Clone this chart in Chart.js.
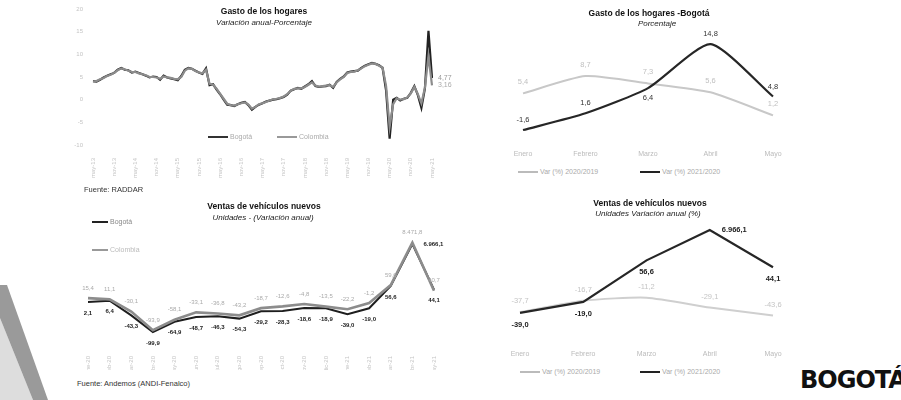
<!DOCTYPE html>
<html lang="es">
<head>
<meta charset="utf-8">
<script src="https://cdn.jsdelivr.net/npm/chart.js@4.4.1/dist/chart.umd.min.js"></script>
<style>
  html, body { margin: 0; padding: 0; background: #fff; }
  body { width: 901px; height: 400px; position: relative; overflow: hidden; font-family: "Liberation Sans", Arial, sans-serif; }
  canvas { position: absolute; }
  .t { position: absolute; white-space: nowrap; color: #111; }
  .tit { font-weight: bold; font-size: 8.5px; text-align: center; }
  .sub { font-style: italic; font-size: 8px; text-align: center; color: #222; }
  .leg { font-size: 7px; color: #aaa; }
  .leg i { display: inline-block; width: 20px; height: 2px; vertical-align: middle; margin-right: 2px; }
  .fuente { font-size: 7.5px; color: #333; }
</style>
</head>
<body>
<div style="position:absolute;left:0;top:0;width:60px;height:400px;background:#ddd;clip-path:polygon(0 318px,33px 400px,0 400px)"></div>
<div style="position:absolute;left:0;top:0;width:60px;height:400px;background:#9a9a9a;clip-path:polygon(0 285px,7px 285px,48px 400px,33px 400px,0 318px)"></div>

<canvas id="gasto" width="400" height="180" style="left:60px;top:0"></canvas>
<canvas id="gastoBog" width="441" height="165" style="left:460px;top:0"></canvas>
<canvas id="ventas" width="400" height="180" style="left:60px;top:190px"></canvas>
<canvas id="ventasBog" width="441" height="175" style="left:460px;top:190px"></canvas>

<div class="t tit" style="left:164px;width:200px;top:6px">Gasto de los hogares</div>
<div class="t sub" style="left:164px;width:200px;top:18px">Variación anual-Porcentaje</div>
<div class="t leg" style="left:208px;top:133px"><i style="background:#333"></i>Bogotá</div>
<div class="t leg" style="left:277px;top:133px"><i style="background:#999"></i>Colombia</div>
<div class="t fuente" style="left:84px;top:185px">Fuente: RADDAR</div>

<div class="t tit" style="left:549px;width:200px;top:8px">Gasto de los hogares -Bogotá</div>
<div class="t sub" style="left:557px;width:200px;top:19px">Porcentaje</div>
<div class="t leg" style="left:518px;top:168px"><i style="background:#bbb"></i>Var (%) 2020/2019</div>
<div class="t leg" style="left:640px;top:168px"><i style="background:#222"></i>Var (%) 2021/2020</div>

<div class="t tit" style="left:164px;width:200px;top:201px">Ventas de vehículos nuevos</div>
<div class="t sub" style="left:163px;width:200px;top:213px">Unidades - (Variación anual)</div>
<div class="t leg" style="left:92px;top:218px;color:#888"><i style="background:#222;width:16px"></i>Bogotá</div>
<div class="t leg" style="left:92px;top:246px;color:#bbb"><i style="background:#999;width:16px"></i>Colombia</div>
<div class="t fuente" style="left:77px;top:379px">Fuente: Andemos (ANDI-Fenalco)</div>

<div class="t tit" style="left:550px;width:200px;top:198px">Ventas de vehículos nuevos</div>
<div class="t sub" style="left:548px;width:200px;top:209px">Unidades Variación anual (%)</div>
<div class="t leg" style="left:520px;top:368px"><i style="background:#bbb"></i>Var (%) 2020/2019</div>
<div class="t leg" style="left:640px;top:368px"><i style="background:#222"></i>Var (%) 2021/2020</div>

<div class="t" style="left:800px;top:366px;font-family:'DejaVu Sans';font-weight:bold;font-size:24px;letter-spacing:-1px;color:#111">BOGOTÁ</div>

<script>
// ---- Gasto de los hogares (variación anual, mensual may-13 .. may-21)
const mesesCortos = ['ene','feb','mar','abr','may','jun','jul','ago','sep','oct','nov','dic'];
const gastoBogota = [
  4.1, 4.0, 4.4, 4.9, 5.3, 5.6, 5.9, 6.6, 7.0, 6.6, 6.5, 6.0, 6.2, 5.9, 5.6, 5.3,
  4.9, 5.1, 5.0, 4.4, 5.3, 4.9, 4.7, 4.5, 4.3, 5.2, 6.6, 7.0, 6.8, 6.4, 6.0, 5.7,
  6.9, 3.2, 3.4, 2.2, 1.2, 0.0, -1.1, -1.2, -1.4, -1.0, -0.7, -0.5, -1.2, -2.2, -1.6, -1.1,
  -0.8, -0.4, -0.2, 0.0, 0.1, 0.3, 0.6, 1.1, 2.0, 2.3, 2.6, 2.4, 2.9, 3.4, 4.1, 3.0,
  2.8, 2.9, 3.0, 3.3, 2.6, 3.9, 4.6, 5.1, 6.0, 6.2, 6.3, 6.4, 7.0, 7.5, 7.8, 8.1,
  7.9, 7.6, 7.0, 2.0, -8.6, 0.0, 0.4, -0.2, 0.2, 0.4, 1.5, 3.0, 1.0, -1.8, 2.5, 15.2,
  4.77
];
const gastoColombia = [
  4.0, 4.1, 4.5, 4.8, 5.2, 5.5, 5.9, 6.5, 6.9, 6.7, 6.4, 6.1, 6.1, 5.8, 5.6, 5.4,
  5.0, 5.0, 4.9, 4.6, 5.1, 4.9, 4.8, 4.6, 4.5, 5.0, 6.4, 6.9, 6.8, 6.3, 6.0, 5.8,
  6.6, 3.5, 3.3, 2.4, 1.3, 0.2, -0.9, -1.2, -1.3, -1.0, -0.8, -0.6, -1.1, -2.0, -1.6, -1.0,
  -0.8, -0.5, -0.2, 0.1, 0.2, 0.4, 0.7, 1.2, 2.0, 2.4, 2.5, 2.5, 2.8, 3.3, 3.8, 3.1,
  2.9, 3.0, 3.1, 3.2, 2.8, 3.8, 4.5, 5.0, 5.9, 6.1, 6.2, 6.5, 6.9, 7.4, 7.7, 8.0,
  7.9, 7.5, 7.1, 3.0, -6.0, -1.0, 0.3, 0.0, 0.1, 0.5, 1.4, 2.8, 1.2, -0.8, 2.7, 9.6,
  3.16
];
const gastoTicksY = [-10, -5, 0, 5, 10, 15, 20];

// ---- Gasto de los hogares Bogotá (enero-mayo)
const mesesEneMay = ['Enero', 'Febrero', 'Marzo', 'Abril', 'Mayo'];
const gastoBog2020 = [5.4, 8.7, 7.3, 5.6, 1.2];
const gastoBog2021 = [-1.6, 1.6, 6.4, 14.8, 4.8];

// ---- Ventas de vehículos nuevos (ene-20 .. may-21)
const ventasBogota = [2.1, 6.4, -43.3, -99.9, -64.9, -48.7, -46.3, -54.3, -29.2, -28.3, -18.6, -18.9, -39.0, -19.0, 56.6, 6966.1, 44.1];
const ventasColombia = [15.4, 11.1, -30.1, -93.9, -58.1, -33.1, -36.8, -43.2, -18.7, -12.6, -4.8, -13.5, -22.2, -1.2, 59.6, 8471.8, 40.7];

// ---- Ventas Bogotá (enero-mayo)
const mesesVentas = ['Enero', 'Febrero', 'Marzo', 'Abril', 'Mayo'];
const ventasBog2020 = [-37.7, -16.7, -11.2, -29.1, -43.6];
const ventasBog2021 = [-39.0, -19.0, 56.6, 6966.1, 44.1];

// meses de las series largas
function serieMeses(anioIni, mesIni, n) {
  const out = [];
  for (let k = 0; k < n; k++) {
    const m = (mesIni + k) % 12;
    const a = anioIni + Math.floor((mesIni + k) / 12);
    out.push(mesesCortos[m] + '-' + String(a).slice(2));
  }
  return out;
}
const gastoMeses = serieMeses(2013, 4, gastoBogota.length);
const ventasMeses = serieMeses(2020, 0, ventasBogota.length);

// número con formato es-CO
function fmt(v, dec) {
  const p = Math.abs(v).toFixed(dec).split('.');
  p[0] = p[0].replace(/\B(?=(\d{3})+(?!\d))/g, '.');
  return (v < 0 ? '-' : '') + p[0] + (dec ? ',' + p[1] : '');
}

// escala lineal con tramo comprimido para valores muy altos
class EscalaQuebrada extends Chart.LinearScale {
  aplastar(v) {
    const u = this.options.umbral, k = this.options.compresion;
    return v > u ? u + k * Math.log10(v / u) : v;
  }
  getPixelForValue(v) { return super.getPixelForValue(this.aplastar(v)); }
  getValueForPixel(p) {
    const v = super.getValueForPixel(p);
    const u = this.options.umbral, k = this.options.compresion;
    return v > u ? u * Math.pow(10, (v - u) / k) : v;
  }
}
EscalaQuebrada.id = 'quebrada';
EscalaQuebrada.defaults = Chart.LinearScale.defaults;
Chart.register(EscalaQuebrada);

const etiquetas = {
  id: 'etiquetas',
  afterDatasetsDraw(chart) {
    const ctx = chart.ctx;
    chart.data.datasets.forEach((ds, i) => {
      const e = ds.etiquetas;
      if (!e) return;
      chart.getDatasetMeta(i).data.forEach((pt, j) => {
        if (e.solo && !e.solo.includes(j)) return;
        const pos = Array.isArray(e.pos) ? e.pos[j] : e.pos;
        let dx = 0, dy = 0, align = 'center';
        if (pos === 'above') dy = -e.gap;
        if (pos === 'below') dy = e.gap;
        if (pos === 'right') { dx = e.gap; align = 'left'; }
        ctx.save();
        ctx.font = e.font;
        ctx.fillStyle = e.color;
        ctx.textAlign = align;
        ctx.textBaseline = 'middle';
        ctx.fillText(fmt(ds.data[j], e.dec), pt.x + dx, pt.y + dy);
        ctx.restore();
      });
    });
  }
};

Chart.defaults.font.family = '"Liberation Sans", Arial, sans-serif';
Chart.defaults.animation = false;
Chart.defaults.responsive = false;
Chart.defaults.plugins.legend.display = false;
Chart.defaults.plugins.tooltip.enabled = false;
Chart.defaults.elements.point.radius = 0;

const ejeX = (alto, pad) => ({
  offset: false,
  grid: { display: false },
  border: { display: false },
  afterFit: s => { s.height = alto; },
  ticks: { padding: pad, color: '#bbb', font: { size: 7 }, autoSkip: false, maxRotation: 0 }
});

new Chart(document.getElementById('gasto'), {
  type: 'line',
  data: {
    labels: gastoMeses,
    datasets: [
      { label: 'Colombia', data: gastoColombia, borderColor: '#8c8c8c', borderWidth: 2.2, tension: 0,
        etiquetas: { solo: [gastoColombia.length - 1], pos: 'right', gap: 6, dec: 2, font: '7px "Liberation Sans"', color: '#aaa' } },
      { label: 'Bogotá', data: gastoBogota, borderColor: '#222', borderWidth: 2.2, tension: 0,
        etiquetas: { solo: [gastoBogota.length - 1], pos: 'right', gap: 6, dec: 2, font: '7px "Liberation Sans"', color: '#999' } }
    ]
  },
  options: {
    layout: { padding: { left: 8, top: 9, right: 28, bottom: 0 } },
    scales: {
      x: {
        offset: false,
        grid: { display: false },
        border: { display: false },
        afterFit: s => { s.height = 35; },
        ticks: {
          padding: 5, color: '#c4c4c4', font: { size: 6 }, autoSkip: false,
          minRotation: 90, maxRotation: 90,
          callback: (v, i) => (i % 6 === 0 ? gastoMeses[i] : '')
        }
      },
      y: {
        min: gastoTicksY[0], max: gastoTicksY[gastoTicksY.length - 1],
        afterFit: s => { s.width = 25; },
        afterBuildTicks: s => { s.ticks = gastoTicksY.map(v => ({ value: v })); },
        grid: { display: false },
        border: { display: false },
        ticks: { padding: 2, color: '#c4c4c4', font: { size: 6 } }
      }
    }
  },
  plugins: [etiquetas]
});

new Chart(document.getElementById('gastoBog'), {
  type: 'line',
  data: {
    labels: mesesEneMay,
    datasets: [
      { label: 'Var (%) 2021/2020', data: gastoBog2021, borderColor: '#262626', borderWidth: 2.2, tension: 0.2,
        etiquetas: { pos: ['above', 'above', 'below', 'above', 'above'], gap: 10, dec: 1, font: '7.5px "Liberation Sans"', color: '#333' } },
      { label: 'Var (%) 2020/2019', data: gastoBog2020, borderColor: '#c8c8c8', borderWidth: 2, tension: 0.2,
        etiquetas: { pos: 'above', gap: 11, dec: 1, font: '7.5px "Liberation Sans"', color: '#c0c0c0' } }
    ]
  },
  options: {
    layout: { padding: { left: 63, top: 30, right: 128, bottom: 0 } },
    scales: {
      x: ejeX(25, 2),
      y: { display: false, min: -3.5, max: 17.5 }
    }
  },
  plugins: [etiquetas]
});

new Chart(document.getElementById('ventas'), {
  type: 'line',
  data: {
    labels: ventasMeses,
    datasets: [
      { label: 'Colombia', data: ventasColombia, borderColor: '#8c8c8c', borderWidth: 2.6, tension: 0,
        etiquetas: { pos: 'above', gap: 10, dec: 1, font: '6px "Liberation Sans"', color: '#aaa' } },
      { label: 'Bogotá', data: ventasBogota, borderColor: '#1e1e1e', borderWidth: 2, tension: 0,
        etiquetas: { pos: ['below', 'below', 'below', 'below', 'below', 'below', 'below', 'below', 'below', 'below', 'below', 'below', 'below', 'below', 'below', 'right', 'below'],
          gap: 11, dec: 1, font: 'bold 6px "Liberation Sans"', color: '#222' } }
    ]
  },
  options: {
    layout: { padding: { left: 28, top: 50, right: 26, bottom: 0 } },
    scales: {
      x: {
        offset: false,
        grid: { display: false },
        border: { display: false },
        afterFit: s => { s.height = 30; },
        ticks: { padding: 8, color: '#c4c4c4', font: { size: 6 }, autoSkip: false, minRotation: 90, maxRotation: 90 }
      },
      y: { type: 'quebrada', display: false, min: -127, max: 213, umbral: 100, compresion: 54 }
    }
  },
  plugins: [etiquetas]
});

new Chart(document.getElementById('ventasBog'), {
  type: 'line',
  data: {
    labels: mesesVentas,
    datasets: [
      { label: 'Var (%) 2021/2020', data: ventasBog2021, borderColor: '#262626', borderWidth: 2.2, tension: 0,
        etiquetas: { pos: ['below', 'below', 'below', 'right', 'below'], gap: 12, dec: 1, font: 'bold 7.5px "Liberation Sans"', color: '#222' } },
      { label: 'Var (%) 2020/2019', data: ventasBog2020, borderColor: '#cfcfcf', borderWidth: 2, tension: 0.2,
        etiquetas: { pos: 'above', gap: 11, dec: 1, font: '7.5px "Liberation Sans"', color: '#c4c4c4' } }
    ]
  },
  options: {
    layout: { padding: { left: 60, top: 30, right: 128, bottom: 0 } },
    scales: {
      x: ejeX(35, 12),
      y: { type: 'quebrada', display: false, min: -70, max: 130, umbral: 60, compresion: 25 }
    }
  },
  plugins: [etiquetas]
});
</script>
</body>
</html>
